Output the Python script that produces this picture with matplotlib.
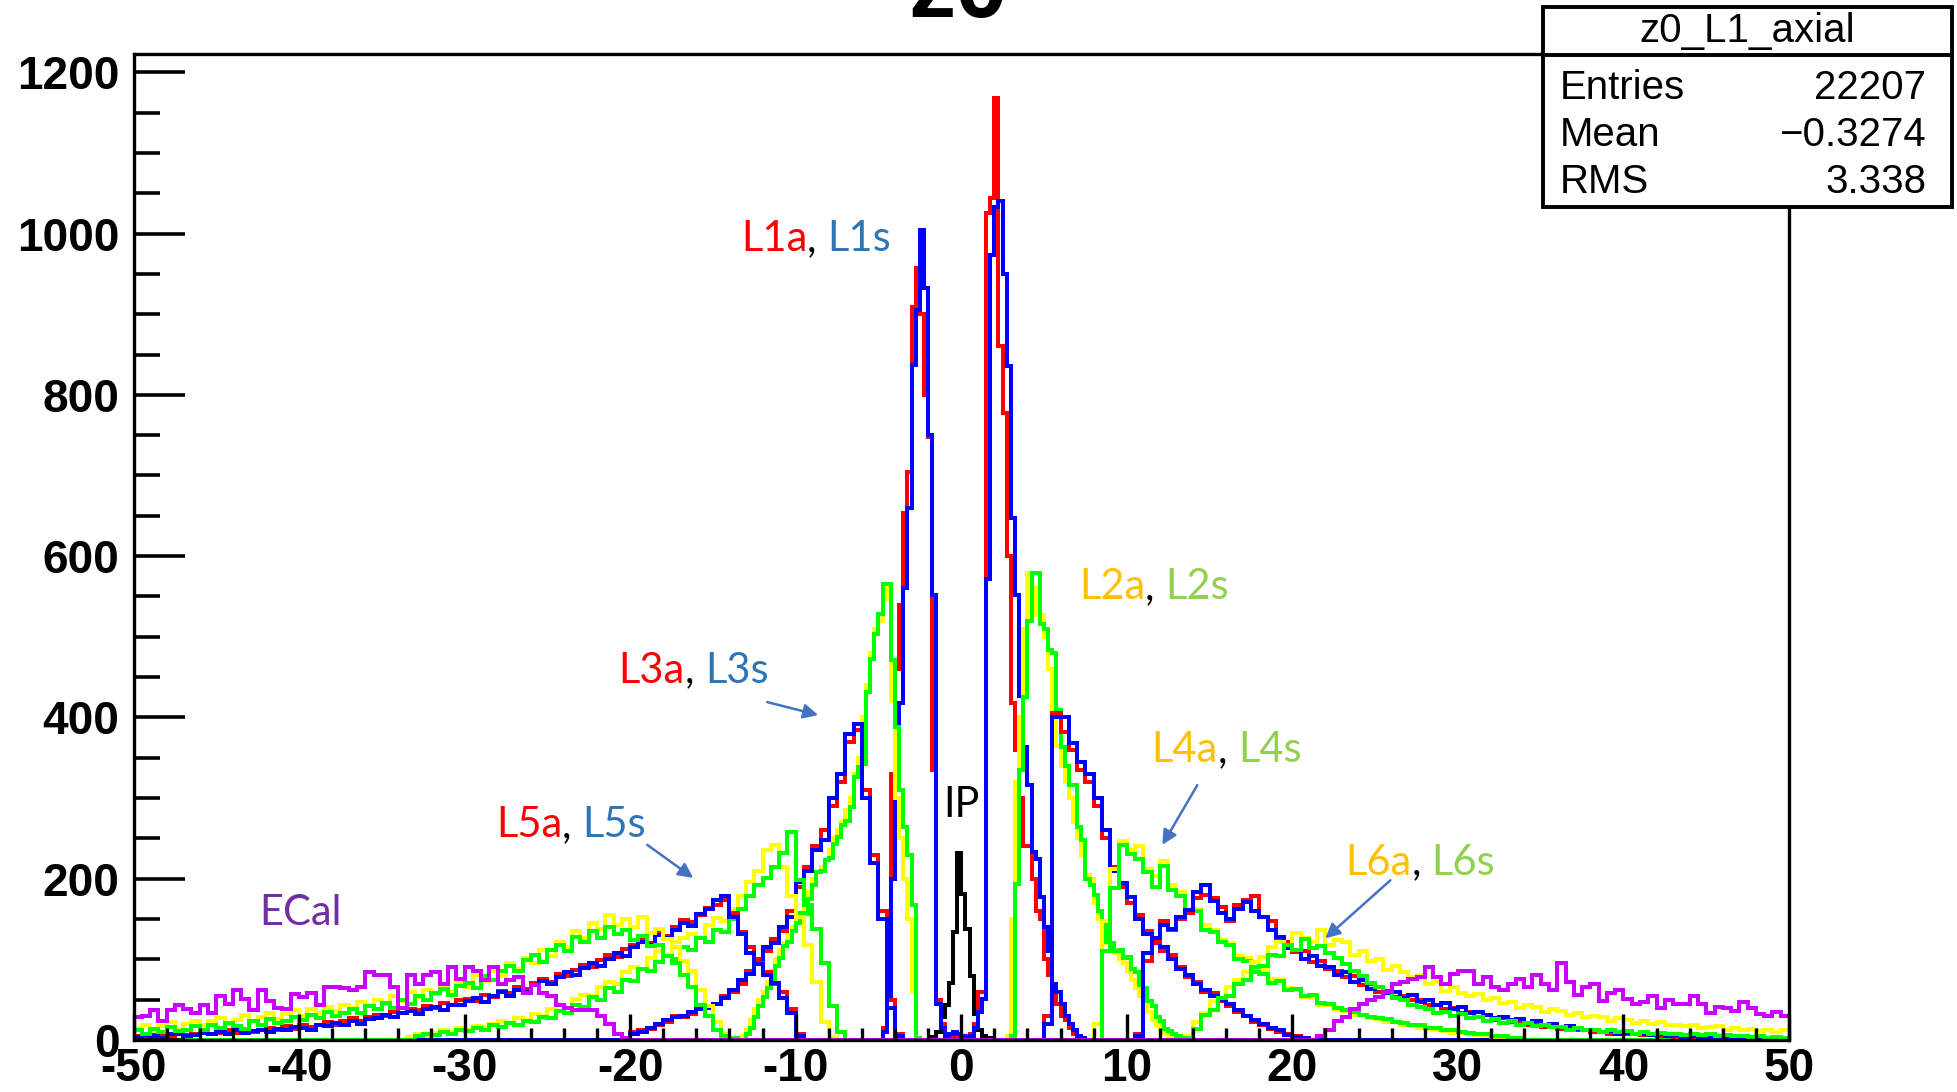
import numpy as np
import matplotlib
matplotlib.use("Agg")
import matplotlib.pyplot as plt
from matplotlib.patches import Rectangle
from matplotlib.lines import Line2D
from matplotlib.ticker import MultipleLocator

plt.rcParams['font.family'] = ['Liberation Sans', 'DejaVu Sans']

# ---------------- data (bin contents) ----------------
X_MIN, X_MAX = -50.0, 50.0
Y_MAX = 1223
FINE = 0.25     # bin width for narrow peaks
COARSE = 0.5    # bin width for broad distributions

IP_START = -1.75
IP = [4, 10, 28, 43, 71, 134, 232, 181, 138, 79, 32, 12, 5, 3, 2]

L1A_START = -4.75
L1A = [15, 60, 330, 460, 540, 654, 704, 909, 957, 900, 800, 748, 335, 50, 20, 8,
       5, 4, 3, 3, 5, 8, 20,
       60, 60, 1025, 1044, 1168, 861, 777, 600, 418, 360, 300, 240, 240, 200, 160,
       150, 100, 80, 60, 45, 30, 25, 15, 8, 3, 2]
L1S_START = -4.75
L1S = [10, 50, 200, 340, 418, 560, 660, 837, 905, 1005, 933, 750, 552, 45, 15, 5,
       8, 10, 8, 5, 3, 5, 15,
       35, 51, 572, 974, 1033, 1040, 950, 836, 647, 552, 426, 363, 316, 233, 225,
       177, 140, 110, 70, 60, 45, 30, 20, 12, 5, 3]

L2A_L_START = -13.25
L2A_L = [5, 12, 25, 38, 50, 60, 72, 85, 100, 112, 120, 130, 140, 150, 158, 168, 185,
         200, 208, 215, 225, 235, 250, 260, 270, 285, 300, 330, 350, 400, 440, 480,
         510, 520, 560, 547, 420, 300, 250, 200, 150, 60, 3]
L2A_R_START = 2.75
L2A_R = [5, 150, 320, 400, 510, 579, 560, 527, 527, 500, 460, 400, 365, 340, 320, 300,
         270, 250, 230, 205, 200, 170, 150, 130, 120, 115, 108, 100, 95, 85, 75, 65,
         55, 45, 35, 25, 18, 12, 8, 5, 3]
L2S_L_START = -13.0
L2S_L = [8, 15, 28, 42, 53, 64, 76, 92, 102, 117, 122, 135, 145, 158, 156, 175, 192,
         208, 209, 223, 226, 243, 252, 266, 272, 289, 326, 338, 342, 432, 472, 503,
         528, 566, 566, 471, 388, 310, 264, 230, 167, 3]
L2S_R_START = 3.0
L2S_R = [5, 194, 335, 425, 520, 579, 579, 516, 510, 483, 480, 409, 363, 340, 316, 316,
         264, 248, 200, 192, 180, 160, 142, 122, 120, 110, 112, 102, 103, 88, 84, 68,
         64, 48, 42, 28, 24, 14, 11, 7, 5, 3, 2]

L3A_L_START = -20.0
L3A_L = [10, 12, 14, 18, 22, 30, 28, 32, 40, 42, 45, 55, 60, 70, 85, 100, 110, 125,
         135, 160, 190, 215, 240, 260, 290, 320, 370, 385, 310, 230, 160, 50, 8]
L3A_R_START = 5.0
L3A_R = [30, 405, 382, 360, 335, 320, 290, 250, 215, 190, 170, 155, 135, 120, 110, 105,
         90, 78, 72, 60, 58, 48, 42, 35, 30, 22, 18, 14, 10, 8, 5, 2]
L3S_L_START = -20.0
L3S_L = [8, 10, 15, 20, 25, 28, 30, 35, 38, 40, 45, 52, 62, 75, 82, 95, 115, 120, 140,
         153, 196, 210, 235, 248, 300, 330, 380, 392, 300, 220, 150, 40, 5]
L3S_R_START = 5.0
L3S_R = [20, 400, 400, 368, 345, 330, 300, 260, 210, 195, 177, 150, 132, 125, 115, 100,
         88, 80, 70, 62, 55, 50, 45, 37, 30, 25, 20, 15, 12, 6, 4, 3]

L4A_L_START = -33.5
L4A_L = [4, 7, 5, 9, 12, 10, 15, 13, 17, 16, 20, 23, 21, 27, 25, 32, 30, 38, 43, 40,
         51, 56, 54, 66, 72, 70, 84, 91, 88, 102, 110, 106, 121, 126, 132, 128, 142, 151,
         147, 163, 178, 196, 210, 236, 242, 215, 178, 152, 118, 72, 22, 4]
L4A_R_START = 8.0
L4A_R = [20, 148, 212, 247, 236, 240, 212, 203, 222, 192, 183, 162, 163, 142, 137, 124,
         120, 104, 102, 88, 87, 76, 74, 64, 62, 53, 52, 44, 43, 37, 36, 31, 31, 27, 26,
         22, 22, 18, 18, 15, 14, 12, 11, 9, 9, 7, 6, 5, 4, 2]
L4S_L_START = -33.0
L4S_L = [5, 7, 6, 10, 8, 13, 11, 15, 12, 18, 16, 21, 19, 24, 22, 29, 27, 36, 33, 44,
         41, 53, 50, 64, 60, 75, 73, 88, 85, 97, 104, 101, 115, 111, 126, 122, 137, 134,
         150, 162, 178, 192, 201, 214, 232, 258, 198, 168, 138, 96, 42, 10]
L4S_R_START = 8.5
L4S_R = [110, 188, 242, 231, 224, 208, 190, 216, 186, 178, 158, 160, 137, 134, 121, 118,
         101, 98, 84, 82, 71, 73, 62, 63, 54, 56, 46, 45, 40, 37, 35, 31, 29, 27, 26, 22,
         21, 18, 18, 15, 15, 12, 12, 10, 9, 8, 7, 5, 5, 3, 2]

L5A_L_START = -50.0
L5A_L = [5, 3, 7, 6, 4, 9, 6, 8, 10, 7, 9, 12, 9, 14, 10, 13, 15, 12, 17, 14,
         19, 16, 18, 22, 19, 24, 27, 23, 29, 31, 30, 35, 33, 39, 37, 42, 40, 46, 44, 49,
         51, 48, 56, 53, 61, 58, 66, 63, 71, 76, 72, 82, 79, 87, 93, 90, 99, 106, 103,
         113, 118, 124, 120, 133, 129, 140, 149, 146, 155, 164, 168, 173, 157, 134, 115,
         96, 84, 70, 60, 38, 8]
L5A_R_START = 10.5
L5A_R = [8, 98, 122, 147, 136, 150, 157, 176, 180, 176, 165, 148, 167, 174, 179, 153,
         147, 126, 122, 109, 110, 97, 98, 88, 86, 78, 79, 68, 69, 60, 61, 53, 55, 49, 50,
         43, 44, 38, 40, 34, 35, 29, 31, 25, 27, 22, 23, 19, 20, 16, 17, 14, 14, 12, 12,
         10, 10, 8, 9, 7, 7, 6, 6, 5, 5, 4, 5, 3, 4, 3, 3, 2, 3, 2, 2, 2, 2, 2, 2]
L5S_L_START = -50.0
L5S_L = [4, 6, 5, 3, 7, 8, 5, 6, 9, 7, 10, 8, 12, 9, 11, 13, 10, 14, 12, 16,
         15, 13, 18, 17, 21, 18, 23, 20, 26, 27, 31, 28, 33, 36, 32, 38, 41, 37, 44, 43,
         48, 52, 47, 55, 59, 54, 62, 60, 68, 73, 70, 78, 84, 80, 89, 96, 92, 101, 108,
         104, 115, 122, 118, 130, 127, 136, 145, 141, 156, 162, 174, 178, 152, 131, 108,
         94, 80, 71, 52, 34, 5]
L5S_R_START = 10.5
L5S_R = [5, 108, 126, 142, 138, 152, 161, 183, 192, 172, 158, 150, 163, 171, 160, 152,
         137, 128, 114, 112, 101, 104, 92, 90, 80, 84, 72, 74, 63, 66, 58, 60, 52, 56, 47,
         50, 44, 46, 39, 41, 33, 35, 31, 27, 29, 25, 26, 21, 23, 19, 20, 16, 17, 14, 13,
         12, 10, 11, 8, 9, 7, 8, 6, 7, 5, 6, 4, 5, 4, 3, 4, 3, 2, 3, 2, 3, 2, 2, 2]

L6A_L_START = -50.0
L6A_L = [14, 19, 11, 17, 22, 14, 20, 24, 18, 23, 27, 20, 25, 31, 24, 28, 34, 26, 32, 37,
         30, 38, 33, 41, 36, 44, 40, 47, 43, 50, 45, 55, 48, 60, 53, 62, 57, 68, 60, 72,
         66, 80, 73, 86, 79, 95, 88, 102, 96, 112, 104, 122, 115, 135, 126, 145, 138, 155,
         142, 150, 140, 152, 133, 138, 125, 115, 98, 85, 62, 42, 22, 8, 3]
L6A_R_START = 13.5
L6A_R = [5, 22, 34, 48, 52, 66, 74, 84, 97, 103, 115, 121, 118, 133, 126, 122, 136, 118,
         124, 121, 106, 110, 98, 101, 87, 92, 84, 78, 81, 70, 72, 61, 66, 58, 54, 57, 49,
         52, 46, 47, 40, 43, 41, 35, 38, 36, 31, 34, 28, 30, 29, 24, 27, 25, 21, 24, 20,
         22, 18, 19, 17, 19, 15, 16, 17, 13, 15, 12, 14, 11, 13, 10, 12]
L6S_L_START = -50.0
L6S_L = [12, 8, 14, 10, 16, 11, 13, 17, 12, 19, 15, 21, 17, 14, 23, 19, 26, 21, 24, 29,
         25, 31, 27, 35, 30, 33, 39, 34, 42, 38, 46, 40, 49, 45, 54, 50, 58, 63, 56, 67,
         71, 64, 79, 74, 85, 92, 86, 99, 105, 97, 112, 118, 110, 128, 122, 135, 127, 140,
         131, 136, 124, 129, 116, 118, 104, 96, 80, 66, 44, 30, 12, 5, 2]
L6S_R_START = 13.5
L6S_R = [3, 14, 31, 37, 52, 55, 70, 75, 91, 92, 106, 104, 118, 112, 125, 114, 116, 108,
         102, 94, 86, 79, 71, 66, 60, 52, 49, 43, 41, 39, 34, 35, 30, 32, 27, 28, 24, 26,
         21, 23, 19, 21, 17, 18, 16, 16, 13, 15, 12, 13, 10, 12, 10, 11, 8, 10, 8, 9, 7,
         8, 6, 8, 6, 7, 5, 6, 5, 5, 4, 5, 3, 4, 3]

ECAL_L_START = -50.0
ECAL_L = [28, 30, 37, 24, 37, 43, 38, 33, 43, 33, 55, 45, 62, 51, 37, 62, 48, 40, 38, 57,
          53, 58, 43, 66, 66, 64, 62, 66, 84, 80, 80, 66, 40, 80, 70, 80, 84, 70, 90, 76,
          90, 86, 74, 90, 70, 75, 78, 58, 68, 58, 55, 43, 40, 37, 37, 37, 30, 20, 8, 3]
ECAL_R_START = 21.5
ECAL_R = [5, 12, 24, 28, 38, 45, 50, 53, 60, 70, 72, 76, 78, 91, 78, 70, 82, 86, 86, 70,
          78, 66, 62, 70, 76, 66, 80, 70, 62, 95, 72, 56, 66, 70, 48, 58, 62, 51, 45, 47,
          55, 40, 50, 45, 45, 55, 45, 33, 41, 40, 36, 47, 40, 32, 30, 35, 30]

XTICKS = [-50, -40, -30, -20, -10, 0, 10, 20, 30, 40, 50]
XTICK_LABELS = [str(t) for t in XTICKS]
YTICKS = [0, 200, 400, 600, 800, 1000, 1200]
YTICK_LABELS = [str(t) for t in YTICKS]

STATS_NAME = "z0_L1_axial"
STATS_KEYS = ["Entries", "Mean", "RMS"]
STATS_VALS = ["22207", "\u22120.3274", "3.338"]
TITLE = "z0"

# ---------------- helpers ----------------
def place(width, *parts):
    n = int(round((X_MAX - X_MIN) / width))
    arr = np.zeros(n)
    for start, vals in parts:
        i0 = int(round((start - X_MIN) / width))
        v = np.asarray(vals, float)[: n - i0]
        arr[i0:i0 + len(v)] += v
    edges = np.linspace(X_MIN, X_MAX, n + 1)
    return arr, edges

RED, BLUE, YEL, GRN, MAG, BLK = '#FF0000', '#0000FF', '#FFFF00', '#00FF00', '#CC00FF', '#000000'

series = [
    (place(FINE, (IP_START, IP)), BLK),
    (place(FINE, (L1A_START, L1A)), RED),
    (place(FINE, (L1S_START, L1S)), BLUE),
    (place(FINE, (L2A_L_START, L2A_L), (L2A_R_START, L2A_R)), YEL),
    (place(FINE, (L2S_L_START, L2S_L), (L2S_R_START, L2S_R)), GRN),
    (place(COARSE, (L3A_L_START, L3A_L), (L3A_R_START, L3A_R)), RED),
    (place(COARSE, (L3S_L_START, L3S_L), (L3S_R_START, L3S_R)), BLUE),
    (place(COARSE, (L4A_L_START, L4A_L), (L4A_R_START, L4A_R)), YEL),
    (place(COARSE, (L4S_L_START, L4S_L), (L4S_R_START, L4S_R)), GRN),
    (place(COARSE, (L5A_L_START, L5A_L), (L5A_R_START, L5A_R)), RED),
    (place(COARSE, (L5S_L_START, L5S_L), (L5S_R_START, L5S_R)), BLUE),
    (place(COARSE, (L6A_L_START, L6A_L), (L6A_R_START, L6A_R)), YEL),
    (place(COARSE, (L6S_L_START, L6S_L), (L6S_R_START, L6S_R)), GRN),
    (place(COARSE, (ECAL_L_START, ECAL_L), (ECAL_R_START, ECAL_R)), MAG),
]

# ---------------- figure ----------------
W, H = 1957, 1092
fig = plt.figure(figsize=(W / 100, H / 100), dpi=100)
ax = fig.add_axes([133.5 / W, 1 - 1040 / H, (1789 - 133.5) / W, (1040 - 53.7) / H])

for (vals, edges), col in series:
    sp = ax.stairs(vals, edges, baseline=None, color=col, linewidth=2.6)
    sp.set_joinstyle('miter')
    sp.set_antialiased(False)

ax.set_xlim(X_MIN, X_MAX)
ax.set_ylim(0, Y_MAX)
ax.set_xticks(XTICKS)
ax.set_xticklabels(XTICK_LABELS)
ax.set_yticks(YTICKS)
ax.set_yticklabels(YTICK_LABELS)
ax.xaxis.set_minor_locator(MultipleLocator(2))
ax.yaxis.set_minor_locator(MultipleLocator(50))
for s in ax.spines.values():
    s.set_linewidth(2.4)
ax.tick_params(axis='x', which='major', direction='in', length=19, width=2.4,
               labelsize=33, pad=5)
ax.tick_params(axis='x', which='minor', direction='in', length=9, width=2.4)
ax.tick_params(axis='y', which='major', direction='in', length=37, width=2.6,
               labelsize=33, pad=10)
ax.tick_params(axis='y', which='minor', direction='in', length=19, width=2.6)
for lab in ax.get_xticklabels() + ax.get_yticklabels():
    lab.set_fontweight('bold')

# title (cut off at top as in the source)
fig.text(958 / W, 1 - 17 / H, TITLE, ha='center', va='baseline', fontsize=68,
         fontweight='bold')

# stats box
bx0, bx1, by0, by1, bdiv = 1543, 1952, 7, 207, 55
fig.add_artist(Rectangle((bx0 / W, 1 - by1 / H), (bx1 - bx0) / W, (by1 - by0) / H,
                         transform=fig.transFigure, facecolor='white', edgecolor='black',
                         linewidth=2.8, zorder=5))
fig.add_artist(Line2D([bx0 / W, bx1 / W], [1 - bdiv / H, 1 - bdiv / H],
                      transform=fig.transFigure, color='black', linewidth=2.8, zorder=6))
fig.text((bx0 + bx1) / 2 / W, 1 - 31 / H, STATS_NAME, ha='center', va='center',
         fontsize=29, zorder=7)
for k, (key, val) in enumerate(zip(STATS_KEYS, STATS_VALS)):
    yy = 1 - (88 + 47 * k) / H
    fig.text(1560 / W, yy, key, ha='left', va='center', fontsize=29, zorder=7)
    fig.text(1926 / W, yy, val, ha='right', va='center', fontsize=29, zorder=7)

# annotations
AFONT = ['Lato', 'DejaVu Sans']
C_RED, C_BLUE, C_ORG, C_GRN, C_PUR = '#FF0000', '#2E75B6', '#FFC000', '#92D050', '#7030A0'

def multi(x, y, parts, size=30):
    prev = None
    for txt, col in parts:
        if prev is None:
            prev = ax.text(x, y, txt, color=col, fontsize=size, family=AFONT,
                           ha='left', va='center', zorder=10)
        else:
            prev = ax.annotate(txt, xy=(1, 0), xycoords=prev, color=col, fontsize=size,
                               family=AFONT, ha='left', va='bottom', zorder=10)

multi(-13.3, 993, [("L1a", C_RED), (", ", 'black'), ("L1s", C_BLUE)])
multi(7.1, 562, [("L2a", C_ORG), (", ", 'black'), ("L2s", C_GRN)])
multi(-20.7, 458, [("L3a", C_RED), (", ", 'black'), ("L3s", C_BLUE)])
multi(11.5, 359, [("L4a", C_ORG), (", ", 'black'), ("L4s", C_GRN)])
multi(-28.1, 266, [("L5a", C_RED), (", ", 'black'), ("L5s", C_BLUE)])
multi(23.2, 220, [("L6a", C_ORG), (", ", 'black'), ("L6s", C_GRN)])
multi(-42.4, 158, [("ECal", C_PUR)])
multi(-1.1, 291, [("IP", 'black')])

ARROW = dict(arrowstyle='-|>', color='#4472C4', lw=1.8, mutation_scale=22,
             shrinkA=0, shrinkB=0)
for tail, head in [((-11.72, 419), (-8.64, 403)), ((-18.97, 242), (-16.19, 201)),
                   ((14.26, 316), (12.15, 242)), ((25.92, 198), (21.99, 126))]:
    ax.annotate('', xy=head, xytext=tail, arrowprops=ARROW, zorder=10)

fig.savefig('out.png', dpi=100)
